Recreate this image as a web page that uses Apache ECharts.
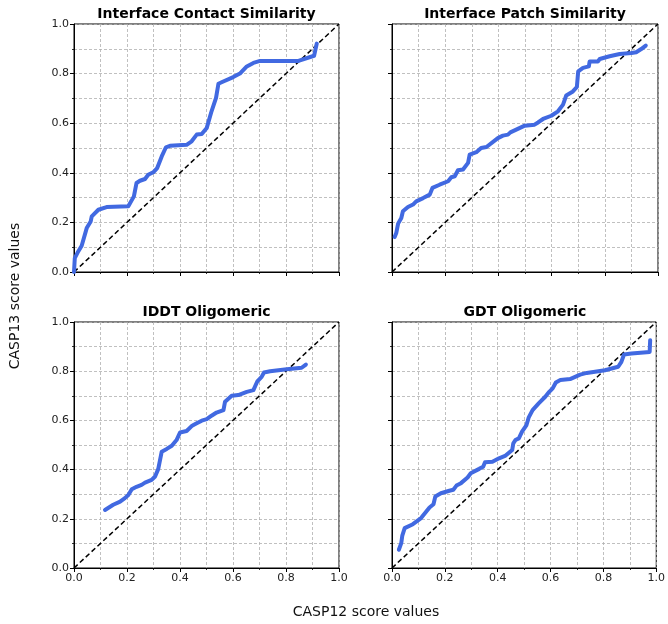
<!DOCTYPE html>
<html>
<head>
<meta charset="utf-8">
<script src="https://cdn.jsdelivr.net/npm/echarts@6/dist/echarts.min.js"></script>
<style>html,body{margin:0;padding:0;background:#fff;}#c{width:668px;height:624px;}</style>
</head>
<body>
<div id="c"></div>
<script>
const titles = ['Interface Contact Similarity', 'Interface Patch Similarity', 'IDDT Oligomeric', 'GDT Oligomeric'];
const tickValues = [0, 0.2, 0.4, 0.6, 0.8, 1.0];
const diagX = [0, 1];
const diagY = [0, 1];

const contactX = [0, 0.003, 0.016, 0.029, 0.048, 0.063, 0.067, 0.092, 0.123, 0.205, 0.226, 0.236, 0.249, 0.268, 0.280, 0.299, 0.314, 0.331, 0.347, 0.362, 0.425, 0.444, 0.463, 0.482, 0.501, 0.519, 0.536, 0.545, 0.557, 0.601, 0.626, 0.652, 0.677, 0.702, 0.847, 0.906, 0.916];
const contactY = [0, 0.056, 0.083, 0.106, 0.177, 0.204, 0.224, 0.251, 0.262, 0.265, 0.305, 0.359, 0.368, 0.375, 0.392, 0.402, 0.419, 0.466, 0.503, 0.509, 0.513, 0.527, 0.554, 0.556, 0.581, 0.648, 0.702, 0.759, 0.765, 0.786, 0.800, 0.829, 0.843, 0.851, 0.851, 0.872, 0.921];

const patchX = [0.010, 0.016, 0.023, 0.035, 0.041, 0.060, 0.079, 0.091, 0.117, 0.142, 0.152, 0.179, 0.211, 0.223, 0.236, 0.248, 0.267, 0.286, 0.292, 0.317, 0.335, 0.355, 0.398, 0.417, 0.436, 0.445, 0.467, 0.499, 0.536, 0.549, 0.568, 0.599, 0.624, 0.643, 0.655, 0.680, 0.695, 0.700, 0.718, 0.740, 0.743, 0.774, 0.781, 0.818, 0.856, 0.900, 0.918, 0.937, 0.954];
const patchY = [0.141, 0.157, 0.195, 0.218, 0.245, 0.262, 0.272, 0.285, 0.298, 0.312, 0.339, 0.352, 0.366, 0.382, 0.386, 0.410, 0.413, 0.440, 0.473, 0.483, 0.500, 0.504, 0.540, 0.550, 0.554, 0.563, 0.574, 0.590, 0.594, 0.603, 0.617, 0.630, 0.648, 0.675, 0.712, 0.728, 0.746, 0.809, 0.823, 0.829, 0.849, 0.849, 0.859, 0.870, 0.879, 0.883, 0.886, 0.899, 0.913];

const lddtX = [0.117, 0.148, 0.174, 0.192, 0.205, 0.218, 0.236, 0.255, 0.268, 0.293, 0.306, 0.318, 0.331, 0.350, 0.369, 0.387, 0.400, 0.425, 0.444, 0.463, 0.482, 0.501, 0.519, 0.538, 0.564, 0.570, 0.595, 0.620, 0.652, 0.677, 0.692, 0.708, 0.717, 0.740, 0.803, 0.859, 0.875];
const lddtY = [0.236, 0.257, 0.270, 0.284, 0.297, 0.320, 0.330, 0.338, 0.347, 0.358, 0.372, 0.403, 0.473, 0.484, 0.497, 0.520, 0.551, 0.557, 0.577, 0.588, 0.599, 0.605, 0.619, 0.632, 0.642, 0.676, 0.700, 0.703, 0.716, 0.723, 0.759, 0.777, 0.795, 0.800, 0.808, 0.814, 0.827];

const gdtX = [0.026, 0.035, 0.039, 0.048, 0.079, 0.110, 0.142, 0.157, 0.164, 0.185, 0.217, 0.232, 0.244, 0.261, 0.286, 0.298, 0.330, 0.345, 0.352, 0.380, 0.405, 0.430, 0.455, 0.459, 0.467, 0.480, 0.492, 0.509, 0.517, 0.532, 0.555, 0.580, 0.595, 0.608, 0.620, 0.637, 0.674, 0.712, 0.737, 0.806, 0.856, 0.868, 0.878, 0.906, 0.975, 0.977];
const gdtY = [0.074, 0.101, 0.132, 0.162, 0.178, 0.203, 0.246, 0.259, 0.291, 0.304, 0.314, 0.318, 0.335, 0.345, 0.368, 0.385, 0.403, 0.412, 0.430, 0.432, 0.446, 0.457, 0.480, 0.507, 0.520, 0.527, 0.554, 0.581, 0.611, 0.642, 0.669, 0.696, 0.716, 0.730, 0.754, 0.764, 0.768, 0.786, 0.793, 0.804, 0.818, 0.838, 0.868, 0.872, 0.878, 0.926];

const panelX = [contactX, patchX, lddtX, gdtX];
const panelY = [contactY, patchY, lddtY, gdtY];

const FONT = 'DejaVu Sans';
const grids = [
  {left: 74, top: 24, width: 265, height: 248},
  {left: 392, top: 24, width: 266, height: 248},
  {left: 74, top: 322, width: 265, height: 246},
  {left: 392, top: 322, width: 266, height: 246}
];

function zip(a, b) { return a.map((v, i) => [v, b[i]]); }

function axis(idx, showLabel) {
  return {
    type: 'value', gridIndex: idx, min: 0, max: 1, interval: 0.2,
    axisLine: {show: true, onZero: false, lineStyle: {color: '#000', width: 1}},
    axisTick: {show: true, length: 4, lineStyle: {color: '#000', width: 1}},
    minorTick: {show: true, splitNumber: 2, length: 2, lineStyle: {color: '#000', width: 0.8}},
    splitLine: {show: true, lineStyle: {color: '#b0b0b0', type: [3, 2], width: 0.8}},
    minorSplitLine: {show: true, lineStyle: {color: '#b0b0b0', type: [3, 2], width: 0.8}},
    axisLabel: {show: showLabel, fontFamily: FONT, fontSize: 11, color: '#222', margin: 5,
      formatter: v => (tickValues.some(t => Math.abs(t - v) < 1e-9) ? v.toFixed(1) : '')}
  };
}

const chart = echarts.init(document.getElementById('c'), null, {renderer: 'canvas'});
const xAxes = [], yAxes = [], series = [], graphics = [];
grids.forEach((g, i) => {
  xAxes.push(axis(i, i >= 2));
  yAxes.push(axis(i, i % 2 === 0));
  series.push({type: 'line', xAxisIndex: i, yAxisIndex: i, data: zip(diagX, diagY), showSymbol: false, symbol: 'none',
    lineStyle: {color: '#000', width: 1.5, type: [5, 3]}, z: 3, silent: true, animation: false});
  series.push({type: 'line', xAxisIndex: i, yAxisIndex: i, data: zip(panelX[i], panelY[i]), showSymbol: false, symbol: 'none',
    lineStyle: {color: '#4169E1', width: 4, cap: 'round', join: 'round'}, z: 4, silent: true, animation: false});
  graphics.push({type: 'text', x: g.left + g.width / 2, y: g.top - 10,
    style: {text: titles[i], fontFamily: FONT, fontSize: 14, fontWeight: 'bold', fill: '#000', textAlign: 'center', textVerticalAlign: 'middle'}});
});
graphics.push({type: 'text', x: 366, y: 612,
  style: {text: 'CASP12 score values', fontFamily: FONT, fontSize: 14, fill: '#111', textAlign: 'center', textVerticalAlign: 'middle'}});
graphics.push({type: 'text', x: 15, y: 296, rotation: Math.PI / 2,
  style: {text: 'CASP13 score values', fontFamily: FONT, fontSize: 14, fill: '#111', textAlign: 'center', textVerticalAlign: 'middle'}});

chart.setOption({
  backgroundColor: '#fff',
  animation: false,
  grid: grids.map(g => Object.assign({show: true, borderColor: '#000', borderWidth: 1, backgroundColor: '#fff'}, g)),
  xAxis: xAxes,
  yAxis: yAxes,
  series: series,
  graphic: graphics
});
</script>
</body>
</html>
